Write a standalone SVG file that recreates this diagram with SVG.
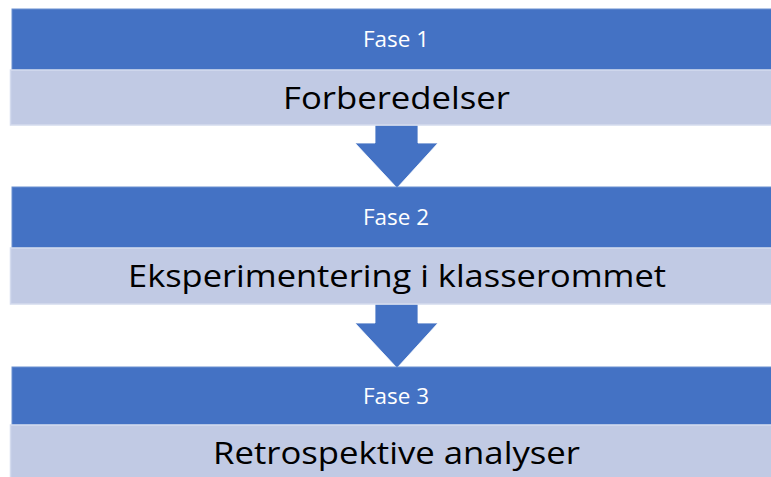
<svg xmlns="http://www.w3.org/2000/svg" width="771" height="477" viewBox="0 0 771 477">
<defs>
<style>
.hd{fill:#4472C4;stroke:#6a8fd0;stroke-width:1}
.bd{fill:#C1CAE4;stroke:#D4DBEE;stroke-width:1.5}
.ar{fill:#4472C4;stroke:#ffffff;stroke-width:0.8}
.t1{font-family:"Open Sans","Noto Sans","Liberation Sans",sans-serif;font-size:22.5px;fill:#ffffff;text-anchor:middle}
.t2{font-family:"Open Sans","Noto Sans","Liberation Sans",sans-serif;font-size:31.5px;fill:#000000;text-anchor:middle}
</style>
</defs>
<rect width="771" height="477" fill="#ffffff"/>
<g id="connectors">
<polygon class="ar" points="375,125 418,125 418,143 438,143 397,188 355,143 375,143"/>
<polygon class="ar" points="375,304 418,304 418,323 438,323 397,368 355,323 375,323"/>
</g>
<g id="phase1">
<rect class="hd" x="12" y="9" width="762" height="61"/>
<rect class="bd" x="10.5" y="70" width="764" height="55"/>
<text class="t1" x="396" y="47" textLength="66" lengthAdjust="spacingAndGlyphs">Fase 1</text>
<text class="t2" x="396.5" y="109" textLength="227" lengthAdjust="spacingAndGlyphs">Forberedelser</text>
</g>
<g id="phase2">
<rect class="hd" x="12" y="187" width="762" height="61"/>
<rect class="bd" x="10.5" y="248" width="764" height="56"/>
<text class="t1" x="396" y="225" textLength="66" lengthAdjust="spacingAndGlyphs">Fase 2</text>
<text class="t2" x="397" y="287" textLength="538" lengthAdjust="spacingAndGlyphs">Eksperimentering i klasserommet</text>
</g>
<g id="phase3">
<rect class="hd" x="12" y="367" width="762" height="58"/>
<rect class="bd" x="10.5" y="425" width="764" height="56"/>
<text class="t1" x="396" y="404" textLength="66" lengthAdjust="spacingAndGlyphs">Fase 3</text>
<text class="t2" x="396.5" y="464" textLength="367" lengthAdjust="spacingAndGlyphs">Retrospektive analyser</text>
</g>
</svg>
